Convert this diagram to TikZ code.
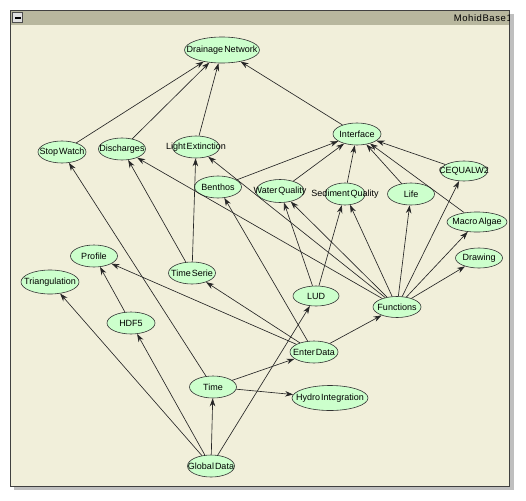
\documentclass[tikz,border=0pt]{standalone}
\usepackage{fontspec}
\setmainfont{Liberation Sans}[WordSpace=0.4]
\usetikzlibrary{shapes.geometric,arrows.meta}
\definecolor{modfill}{RGB}{204,255,204}
\definecolor{winback}{RGB}{241,239,218}
\definecolor{titlebar}{RGB}{184,183,158}
\newcommand{\nt}[1]{\makebox[0pt]{#1}}
\tikzset{
	mod/.style={ellipse,draw=black!80,fill=modfill,line width=0.6pt,inner sep=0pt,
		minimum width=47pt,minimum height=22pt,font=\fontsize{9}{10}\selectfont},
	dep/.style={draw=black!85,line width=0.65pt,-{Stealth[length=8pt,width=5.5pt]}}
}

\begin{document}
\begin{tikzpicture}[x=1pt,y=-1pt]
	\useasboundingbox (0,0) rectangle (526,500);
	% window
	\fill[black!25] (14,14) rectangle (513.5,490);
	\fill[winback] (10.5,10.5) rectangle (509.5,486.5);
	\fill[titlebar] (10.5,10.5) rectangle (509.5,25.5);
	\draw[black!75,line width=1pt] (10.5,10.5) rectangle (509.5,486.5);
	\draw[black!70,fill=black!12] (12.5,12.5) rectangle (22.5,22.5);
	\fill (14.5,16.8) rectangle (20.5,18.6);
	\begin{scope}
		\clip (10.5,10.5) rectangle (509,25.5);
		\node[anchor=east,inner sep=0pt,font=\fontsize{9.5}{10}\selectfont\addfontfeature{LetterSpace=6}] (title) at (512,18.5) {MohidBase1};
	\end{scope}
	% modules
	\node[mod,minimum width=75pt,minimum height=26pt] (drain) at (222,50) {\nt{Drainage Network}};
	\node[mod,minimum width=48pt] (stop) at (62,152) {\nt{Stop Watch}};
	\node[mod] (disch) at (122,149) {\nt{Discharges}};
	\node[mod] (light) at (196,147) {\nt{Light Extinction}};
	\node[mod,minimum width=48pt] (iface) at (357,134) {\nt{Interface}};
	\node[mod] (benth) at (218,187) {\nt{Benthos}};
	\node[mod,minimum width=48pt,minimum height=23pt] (water) at (280,191) {\nt{Water Quality}};
	\node[mod,minimum width=40pt] (sedim) at (345,194) {\nt{Sediment Quality}};
	\node[mod] (life) at (411,194) {\nt{Life}};
	\node[mod,minimum height=20pt] (cequal) at (464,171) {\nt{CEQUALW2}};
	\node[mod,minimum width=60pt,minimum height=20pt] (macro) at (477,222) {\nt{Macro Algae}};
	\node[mod,minimum height=20pt] (drawg) at (479,258) {\nt{Drawing}};
	\node[mod] (prof) at (94,256) {\nt{Profile}};
	\node[mod,minimum width=58pt,minimum height=24pt] (triang) at (50,282) {\nt{Triangulation}};
	\node[mod] (tserie) at (192,273) {\nt{Time Serie}};
	\node[mod,minimum width=46pt,minimum height=20pt] (lud) at (316,296) {\nt{LUD}};
	\node[mod,minimum width=48pt,minimum height=21pt] (func) at (397,307) {\nt{Functions}};
	\node[mod,minimum width=48pt] (hdf) at (131,323) {\nt{HDF5}};
	\node[mod,minimum width=48pt] (enter) at (314,352) {\nt{Enter Data}};
	\node[mod] (time) at (213,387) {\nt{Time}};
	\node[mod,minimum width=76pt,minimum height=25pt] (hydro) at (330,398) {\nt{Hydro Integration}};
	\node[mod] (global) at (211,466) {\nt{Global Data}};
	% dependencies
	\draw[dep] (stop) -- (drain);
	\draw[dep] (disch) -- (drain);
	\draw[dep] (light) -- (drain);
	\draw[dep] (iface) -- (drain);
	\draw[dep] (benth) -- (iface);
	\draw[dep] (water) -- (iface);
	\draw[dep] (sedim) -- (iface);
	\draw[dep] (life) -- (iface);
	\draw[dep] (cequal) -- (iface);
	\draw[dep] (macro) -- (iface);
	\draw[dep] (tserie) -- (disch);
	\draw[dep] (tserie) -- (light);
	\draw[dep] (func) -- (disch);
	\draw[dep] (func) -- (light);
	\draw[dep] (func) -- (water);
	\draw[dep] (func) -- (sedim);
	\draw[dep] (func) -- (life);
	\draw[dep] (func) -- (cequal);
	\draw[dep] (func) -- (macro);
	\draw[dep] (func) -- (drawg);
	\draw[dep] (lud) -- (water);
	\draw[dep] (lud) -- (sedim);
	\draw[dep] (enter) -- (benth);
	\draw[dep] (enter) -- (prof);
	\draw[dep] (enter) -- (tserie);
	\draw[dep] (enter) -- (func);
	\draw[dep] (hdf) -- (prof);
	\draw[dep] (time) -- (stop);
	\draw[dep] (time) -- (enter);
	\draw[dep] (time) -- (hydro);
	\draw[dep] (global) -- (triang);
	\draw[dep] (global) -- (hdf);
	\draw[dep] (global) -- (time);
	\draw[dep] (global) -- (lud);
\end{tikzpicture}
\end{document}
